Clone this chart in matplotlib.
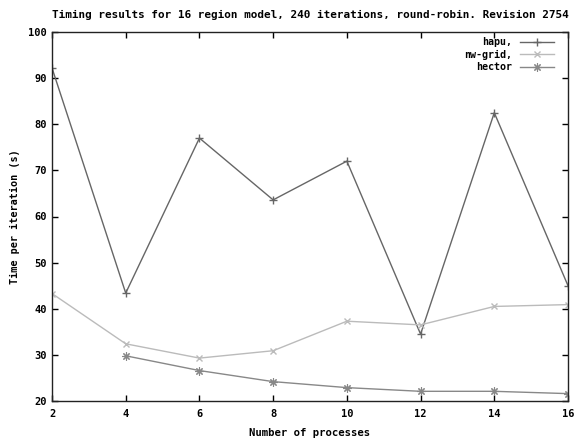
import matplotlib
matplotlib.use("Agg")
import matplotlib.pyplot as plt

procs = [2, 4, 6, 8, 10, 12, 14, 16]
hapu = [92.2, 43.4, 77.0, 63.6, 72.0, 34.5, 82.5, 45.0]
nwgrid = [43.3, 32.4, 29.3, 30.9, 37.3, 36.5, 40.5, 40.9]
hector_x = [4, 6, 8, 10, 12, 14, 16]
hector = [29.8, 26.6, 24.2, 22.9, 22.1, 22.1, 21.6]

xticks = [2, 4, 6, 8, 10, 12, 14, 16]
yticks = [20, 30, 40, 50, 60, 70, 80, 90, 100]

plt.rcParams['font.family'] = ['DejaVu Sans Mono']
plt.rcParams['font.weight'] = 'bold'

fig = plt.figure(figsize=(5.75, 4.38), dpi=100)
ax = fig.add_axes([52/575, 1-401/438, (568-52)/575, (401-32)/438])

ax.plot(procs, hapu, color='#666666', lw=1, marker='+', ms=6, mew=1, label='hapu,')
ax.plot(procs, nwgrid, color='#bbbbbb', lw=1, marker='x', ms=5, mew=1, label='nw-grid,')
ax.plot(hector_x, hector, color='#888888', lw=1, marker=(8, 2, 0), ms=6, mew=0.8, label='hector')

ax.set_xlim(2, 16)
ax.set_ylim(20, 100)
ax.set_xticks(xticks)
ax.set_yticks(yticks)
ax.tick_params(direction='in', top=True, right=True, length=4, labelsize=7.5, width=1)
ax.tick_params(axis='x', pad=6)
for s in ax.spines.values():
    s.set_linewidth(1)
    s.set_color('#222222')

ax.set_title('Timing results for 16 region model, 240 iterations, round-robin. Revision 2754',
             fontsize=7.9, fontweight='bold', pad=10)
ax.set_xlabel('Number of processes', fontsize=7.7, fontweight='bold', labelpad=6)
ax.set_ylabel('Time per iteration (s)', fontsize=7.3, fontweight='bold', labelpad=6)

ax.legend(loc='upper right', frameon=False, markerfirst=False, fontsize=7.2,
          handlelength=3.4, borderaxespad=0.2, borderpad=0.3, labelspacing=0.25,
          handletextpad=0.8, bbox_to_anchor=(0.983, 1.0))

fig.savefig('out.png', dpi=100)
